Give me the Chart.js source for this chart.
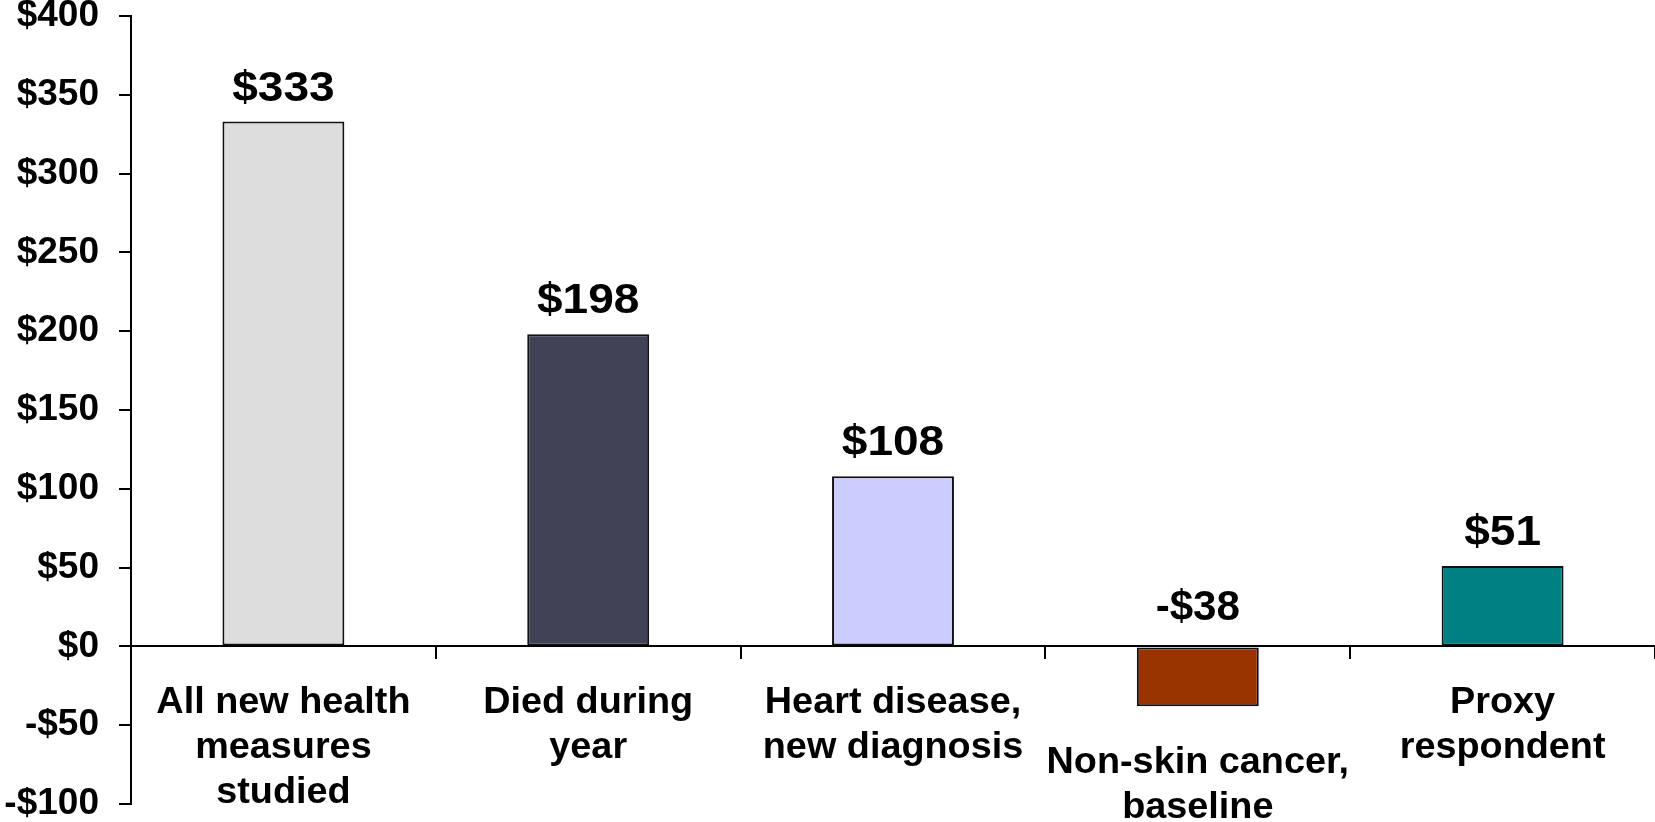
<!DOCTYPE html>
<html>
<head>
<meta charset="utf-8">
<title>Cost differences by health measure</title>
<script src="https://cdn.jsdelivr.net/npm/chart.js@4/dist/chart.umd.min.js"></script>
<style>
  html, body { margin: 0; padding: 0; background: #fff; }
  #wrap { width: 1655px; height: 822px; position: relative; }
</style>
</head>
<body>
<div id="wrap"><canvas id="costChart"></canvas></div>
<script>
// ---- data ----
const categories = [
  ["All new health", "measures", "studied"],
  ["Died during", "year"],
  ["Heart disease,", "new diagnosis"],
  ["Non-skin cancer,", "baseline"],
  ["Proxy", "respondent"]
];
const values = [333, 198, 108, -38, 51];
const yMin = -100;
const yMax = 400;
const yStep = 50;

const barColors = ["#DDDDDD", "#424256", "#CCCCFF", "#993300", "#008080"];
const FONT = "'Liberation Sans', Arial, sans-serif";

function money(v) {
  return (v < 0 ? "-$" : "$") + Math.abs(v);
}

// text in the original is a little wider than Arial, stretch it a bit
function wideText(ctx, text, x, y, sx) {
  ctx.save();
  ctx.translate(x, y);
  ctx.scale(sx, 1);
  ctx.fillText(text, 0, 0);
  ctx.restore();
}

// value labels above bars + category labels under the zero line / bar bottom
const labelPlugin = {
  id: "labels",
  afterDraw(chart) {
    const ctx = chart.ctx;
    const x = chart.scales.x;
    const y = chart.scales.y;
    const zero = y.getPixelForValue(0);
    ctx.save();
    ctx.fillStyle = "#000";
    ctx.textAlign = "center";
    ctx.textBaseline = "alphabetic";

    values.forEach((v, i) => {
      const px = x.getPixelForValue(i);
      const vy = y.getPixelForValue(v);

      // value label (negative bars get theirs above the zero line)
      ctx.font = "bold 43px " + FONT;
      if (v < 0) {
        wideText(ctx, money(v), px, zero - 26, 0.98);
      } else {
        wideText(ctx, money(v), px, vy - 21, 1.07);
      }

      // category label
      ctx.font = "bold 36px " + FONT;
      const base = Math.max(vy, zero) + 67;
      categories[i].forEach((line, j) => {
        wideText(ctx, line, px, base + j * 45, 1.05);
      });
    });
    ctx.restore();
  }
};

new Chart(document.getElementById("costChart"), {
  type: "bar",
  data: {
    labels: categories.map(c => c.join(" ")),
    datasets: [{
      data: values,
      backgroundColor: barColors,
      borderColor: "#111",
      borderWidth: 2,
      borderSkipped: false,
      categoryPercentage: 1,
      barPercentage: 0.4
    }]
  },
  options: {
    responsive: true,
    maintainAspectRatio: false,
    animation: false,
    layout: { padding: 0 },
    plugins: {
      legend: { display: false },
      tooltip: { enabled: false }
    },
    scales: {
      x: {
        position: { y: 0 },
        offset: true,
        grid: {
          offset: true,
          drawOnChartArea: false,
          drawTicks: true,
          tickLength: 12,
          color: "#000",
          lineWidth: 2
        },
        border: { color: "#000", width: 2 },
        ticks: { display: false }
      },
      y: {
        min: yMin,
        max: yMax,
        grid: {
          drawOnChartArea: false,
          drawTicks: true,
          tickLength: 12,
          color: "#000",
          lineWidth: 2
        },
        border: { color: "#000", width: 2 },
        ticks: {
          stepSize: yStep,
          padding: 20,
          color: "#000",
          font: { family: FONT, size: 37, weight: "bold", lineHeight: 1 },
          callback: v => money(v)
        },
        afterFit(s) {
          s.width = 131;
          s.paddingTop = 16;
          s.paddingBottom = 18;
        }
      }
    }
  },
  plugins: [labelPlugin]
});
</script>
</body>
</html>
